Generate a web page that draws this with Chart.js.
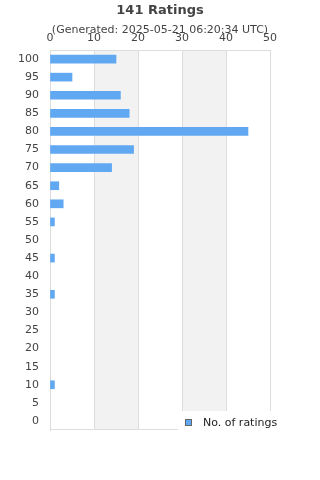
<!DOCTYPE html>
<html>
<head>
<meta charset="utf-8">
<script src="https://cdn.jsdelivr.net/npm/chart.js@4/dist/chart.umd.min.js"></script>
<style>
html,body{margin:0;padding:0;background:#fff;}
#wrap{width:320px;height:480px;position:relative;}
</style>
</head>
<body>
<div id="wrap"><canvas id="c" width="320" height="480"></canvas></div>
<script>
const categories = ['100','95','90','85','80','75','70','65','60','55','50','45','40','35','30','25','20','15','10','5','0'];
const ratingCounts = [15,5,16,18,45,19,14,2,3,1,0,1,0,1,0,0,0,0,1,0,0];
const xTicks = [0,10,20,30,40,50];
const titleText = '141 Ratings';
const subtitleText = '(Generated: 2025-05-21 06:20:34 UTC)';
const seriesLabel = 'No. of ratings';

const FONT = '"DejaVu Sans", sans-serif';
const BAR = '#60a9f2';

const bandsPlugin = {
  id: 'bands',
  beforeDatasetsDraw(chart) {
    const {ctx, chartArea: a, scales: {x}} = chart;
    ctx.save();
    ctx.fillStyle = '#f2f2f2';
    for (let i = 1; i < xTicks.length - 1; i += 2) {
      const x0 = x.getPixelForValue(xTicks[i]);
      const x1 = x.getPixelForValue(xTicks[i + 1]);
      ctx.fillRect(x0, a.top, x1 - x0, a.bottom - a.top);
    }
    ctx.strokeStyle = '#dddddd';
    ctx.lineWidth = 1;
    xTicks.forEach(v => {
      const px = Math.round(x.getPixelForValue(v)) + 0.5;
      ctx.beginPath(); ctx.moveTo(px, a.top); ctx.lineTo(px, a.bottom); ctx.stroke();
    });
    ctx.beginPath();
    ctx.moveTo(a.left, Math.round(a.top) + 0.5); ctx.lineTo(a.right, Math.round(a.top) + 0.5);
    ctx.moveTo(a.left, Math.round(a.bottom) - 0.5); ctx.lineTo(a.right, Math.round(a.bottom) - 0.5);
    ctx.stroke();
    ctx.restore();
  }
};

const overlayPlugin = {
  id: 'overlay',
  afterDraw(chart) {
    const {ctx} = chart;
    ctx.save();
    ctx.textAlign = 'center';
    ctx.textBaseline = 'middle';
    ctx.fillStyle = '#444444';
    ctx.font = 'bold 13px ' + FONT;
    ctx.fillText(titleText, 160, 11);
    ctx.font = '11px ' + FONT;
    ctx.fillText(subtitleText, 160, 30);
    ctx.fillStyle = '#ffffff';
    ctx.fillRect(178, 411, 142, 30);
    ctx.fillStyle = BAR;
    ctx.fillRect(185, 419, 7, 7);
    ctx.strokeStyle = '#666666';
    ctx.lineWidth = 1;
    ctx.strokeRect(185.5, 419.5, 6, 6);
    ctx.fillStyle = '#222222';
    ctx.textAlign = 'left';
    ctx.font = '11px ' + FONT;
    ctx.fillText(seriesLabel, 203, 423);
    ctx.restore();
  }
};

new Chart(document.getElementById('c'), {
  type: 'bar',
  data: {
    labels: categories,
    datasets: [{
      label: seriesLabel,
      data: ratingCounts,
      backgroundColor: (c) => (c.raw ? BAR : 'rgba(0,0,0,0)'),
      borderWidth: 0,
      barThickness: 8
    }]
  },
  options: {
    indexAxis: 'y',
    responsive: false,
    animation: false,
    layout: {padding: {left: 0, right: 50, top: 0, bottom: 50}},
    plugins: {
      legend: {display: false},
      title: {display: false},
      tooltip: {enabled: false}
    },
    scales: {
      x: {
        position: 'top',
        min: 0, max: 50,
        afterFit(s) { s.height = 50; },
        afterBuildTicks(s) { s.ticks = xTicks.map(v => ({value: v})); },
        ticks: {color: '#444444', font: {family: FONT, size: 11}, padding: 5, maxRotation: 0},
        grid: {color: '#dddddd', drawTicks: false},
        border: {display: false}
      },
      y: {
        afterFit(s) { s.width = 50; },
        ticks: {color: '#444444', font: {family: FONT, size: 11}, padding: 11, autoSkip: false},
        grid: {display: false, drawTicks: false},
        border: {display: true, color: '#dddddd'}
      }
    }
  },
  plugins: [bandsPlugin, overlayPlugin]
});
</script>
</body>
</html>
